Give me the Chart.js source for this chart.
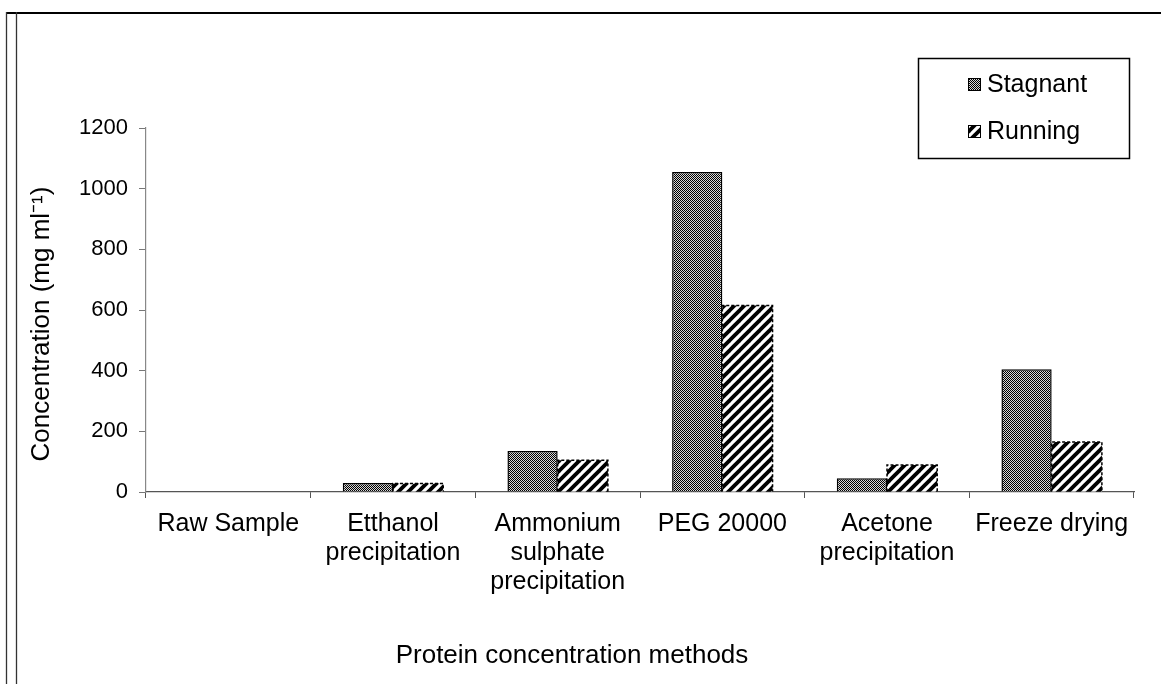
<!DOCTYPE html>
<html>
<head>
<meta charset="utf-8">
<script src="https://cdn.jsdelivr.net/npm/chart.js@4/dist/chart.umd.min.js"></script>
<style>
  html,body{margin:0;padding:0;background:#fff;}
  #wrap{position:relative;width:1161px;height:684px;}
  canvas{display:block;}
</style>
</head>
<body>
<div id="wrap"><canvas id="c" width="1161" height="684"></canvas></div>
<script>
const categories = [
  ["Raw Sample"],
  ["Etthanol", "precipitation"],
  ["Ammonium", "sulphate", "precipitation"],
  ["PEG 20000"],
  ["Acetone", "precipitation"],
  ["Freeze drying"]
];
const stagnant = [0, 30, 135, 1055, 45, 405];
const running = [0, 28, 105, 615, 89, 165];
const seriesNames = ["Stagnant", "Running"];
const yTicks = [0, 200, 400, 600, 800, 1000, 1200];
const xTitle = "Protein concentration methods";
const yTitle = "Concentration (mg ml\u207B\u00B9)";

const FONT = 'Arial, "Liberation Sans", sans-serif';

function checkerPattern() {
  const c = document.createElement('canvas');
  c.width = 2; c.height = 2;
  const g = c.getContext('2d');
  g.fillStyle = '#d8d8d8'; g.fillRect(0, 0, 2, 2);
  g.fillStyle = '#000'; g.fillRect(0, 0, 1, 1); g.fillRect(1, 1, 1, 1);
  return g.createPattern(c, 'repeat');
}
function stripePattern() {
  const s = 10;
  const c = document.createElement('canvas');
  c.width = s; c.height = s;
  const g = c.getContext('2d');
  g.fillStyle = '#fff'; g.fillRect(0, 0, s, s);
  g.strokeStyle = '#000'; g.lineWidth = 3.8; g.lineCap = 'square';
  for (let k = -1; k <= 1; k++) {
    g.beginPath();
    g.moveTo(k * s, s);
    g.lineTo(k * s + s, 0);
    g.stroke();
  }
  return g.createPattern(c, 'repeat');
}
const patStag = checkerPattern();
const patRun = stripePattern();

const decor = {
  id: 'decor',
  afterDatasetsDraw(chart) {
    const ctx = chart.ctx;
    const meta = chart.getDatasetMeta(1);
    ctx.save();
    ctx.strokeStyle = '#000';
    ctx.lineWidth = 1.5;
    ctx.setLineDash([3, 2]);
    meta.data.forEach(el => {
      const p = el.getProps(['x', 'y', 'base', 'width'], true);
      if (Math.abs(p.base - p.y) < 0.5) return;
      const l = p.x - p.width / 2, r = p.x + p.width / 2;
      ctx.beginPath();
      ctx.moveTo(l, p.base); ctx.lineTo(l, p.y); ctx.lineTo(r, p.y); ctx.lineTo(r, p.base);
      ctx.stroke();
    });
    ctx.restore();
  },
  afterDraw(chart) {
    const ctx = chart.ctx;
    ctx.save();
    ctx.strokeStyle = '#000';
    ctx.lineWidth = 2;
    ctx.beginPath(); ctx.moveTo(6, 13); ctx.lineTo(1161, 13); ctx.stroke();
    ctx.lineWidth = 1.3;
    ctx.strokeStyle = '#333';
    ctx.beginPath(); ctx.moveTo(6.5, 12); ctx.lineTo(6.5, 684); ctx.stroke();
    ctx.beginPath(); ctx.moveTo(16.5, 12); ctx.lineTo(16.5, 684); ctx.stroke();

    ctx.fillStyle = '#000';
    ctx.font = '26px ' + FONT;
    ctx.textAlign = 'center';
    ctx.textBaseline = 'middle';
    ctx.fillText(xTitle, 572, 656);
    ctx.save();
    ctx.translate(42, 324);
    ctx.rotate(-Math.PI / 2);
    ctx.font = '26px ' + FONT;
    ctx.fillText(yTitle, 0, 0);
    ctx.restore();

    ctx.lineWidth = 1.5;
    ctx.strokeStyle = '#000';
    ctx.strokeRect(918.5, 58.5, 211, 100);
    const items = [
      { name: seriesNames[0], fill: patStag, y: 84 },
      { name: seriesNames[1], fill: patRun, y: 131 }
    ];
    ctx.font = '25px ' + FONT;
    ctx.textAlign = 'left';
    items.forEach(it => {
      ctx.fillStyle = it.fill;
      ctx.fillRect(968, it.y - 6, 13, 13);
      ctx.lineWidth = 1;
      ctx.strokeStyle = '#000';
      ctx.strokeRect(968.5, it.y - 5.5, 12, 12);
      ctx.fillStyle = '#000';
      ctx.fillText(it.name, 987, it.y + 1);
    });
    ctx.restore();
  }
};

new Chart(document.getElementById('c'), {
  type: 'bar',
  data: {
    labels: categories,
    datasets: [
      { label: seriesNames[0], data: stagnant, backgroundColor: patStag, borderColor: '#000', borderWidth: 1.5, borderSkipped: 'start' },
      { label: seriesNames[1], data: running, backgroundColor: patRun, borderWidth: 0 }
    ]
  },
  options: {
    responsive: false,
    animation: false,
    devicePixelRatio: 1,
    layout: { padding: { top: 128, right: 27, left: 0, bottom: 0 } },
    datasets: { bar: { categoryPercentage: 0.61, barPercentage: 1.0 } },
    plugins: { legend: { display: false }, tooltip: { enabled: false } },
    scales: {
      x: {
        afterFit(s) { s.height = 192; },
        grid: { offset: true, drawOnChartArea: false, drawTicks: true, tickLength: 6, color: '#555', lineWidth: 1 },
        border: { display: true, color: '#555', width: 1.2 },
        ticks: { color: '#000', font: { family: FONT, size: 25, lineHeight: 1.16 }, padding: 12, maxRotation: 0, autoSkip: false }
      },
      y: {
        min: 0, max: 1200,
        afterFit(s) { s.width = 146; },
        afterBuildTicks(s) { s.ticks = yTicks.map(v => ({ value: v })); },
        grid: { drawOnChartArea: false, drawTicks: true, tickLength: 7, color: '#777', lineWidth: 1 },
        border: { display: true, color: '#888', width: 1.2 },
        ticks: { color: '#000', font: { family: FONT, size: 22 }, padding: 11, callback: v => String(v) }
      }
    }
  },
  plugins: [decor]
});
</script>
</body>
</html>
